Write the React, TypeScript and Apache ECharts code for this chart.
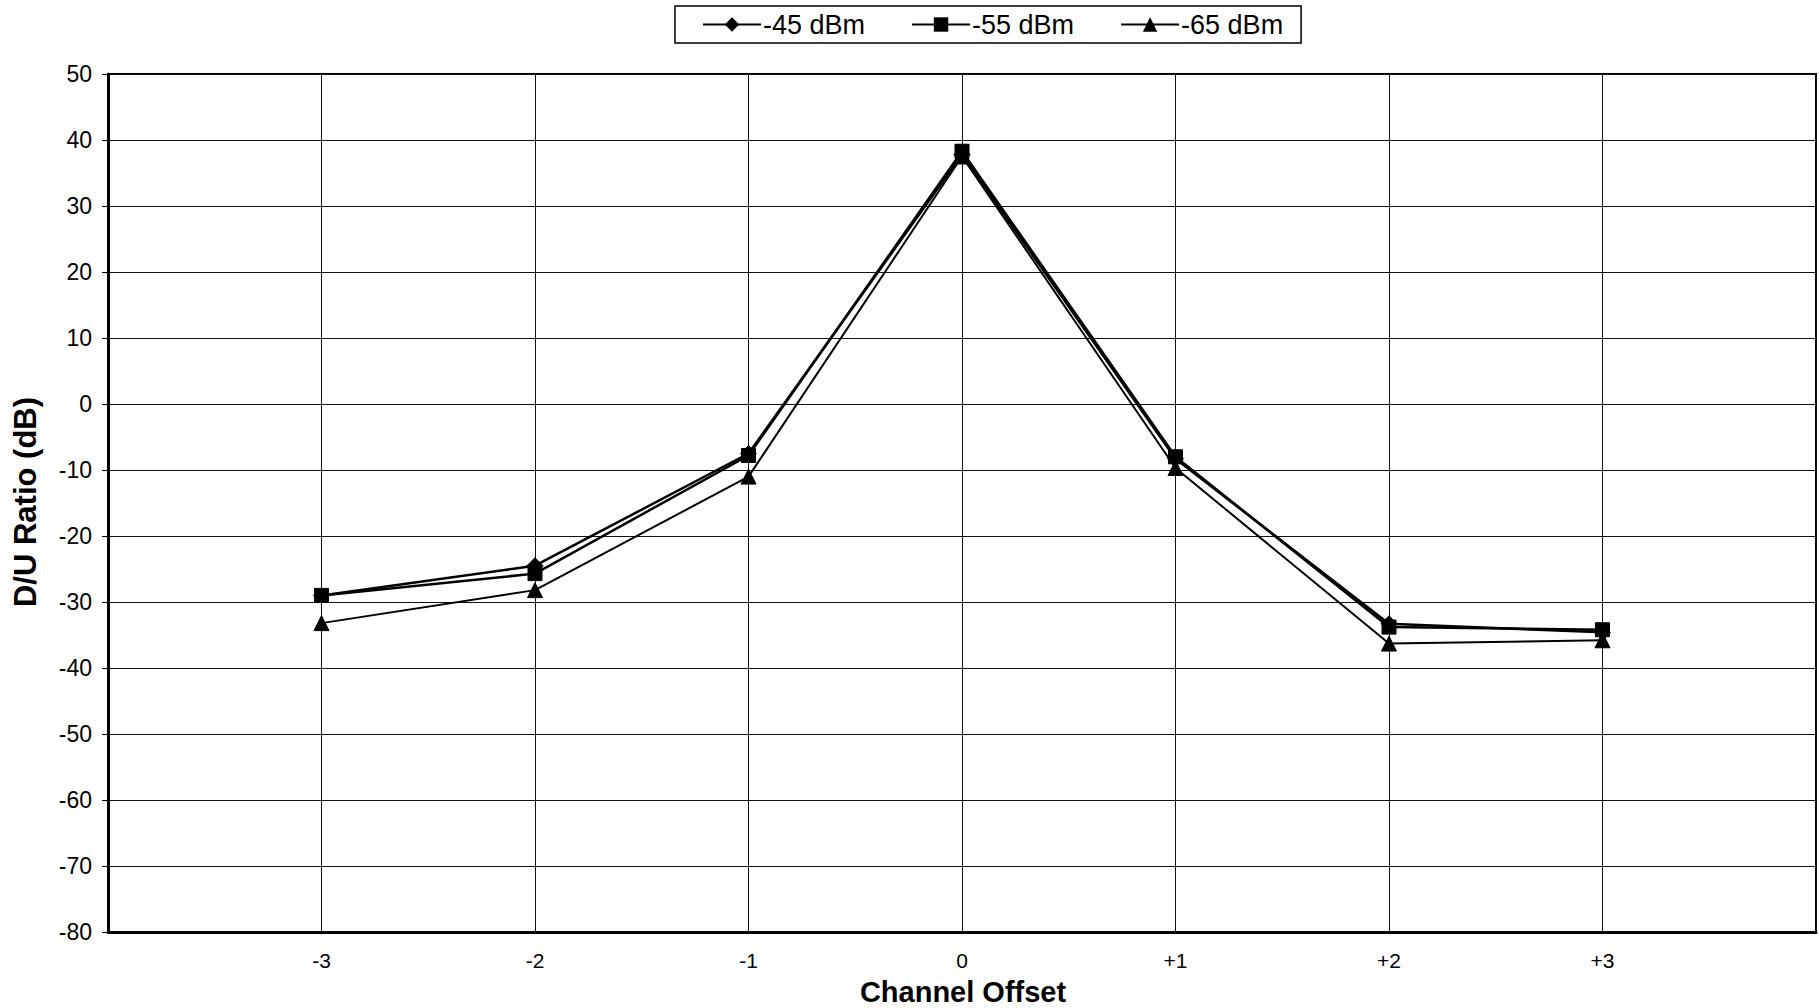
import React, { useEffect, useRef } from "react";
import * as echarts from "echarts";

const channelOffsets = [-3, -2, -1, 0, 1, 2, 3];
const xTickLabels = ["-3", "-2", "-1", "0", "+1", "+2", "+3"];
const seriesNames = ["-45 dBm", "-55 dBm", "-65 dBm"];
const dBm45 = [-29, -24.5, -7.5, 37.8, -8.3, -33.3, -34.6];
const dBm55 = [-29, -25.7, -7.8, 38.3, -8, -33.8, -34.2];
const dBm65 = [-33.2, -28.2, -11, 37.5, -9.7, -36.3, -35.8];
const yTicks = [50, 40, 30, 20, 10, 0, -10, -20, -30, -40, -50, -60, -70, -80];

const FONT = "'Liberation Sans', Arial, sans-serif";

export default function App() {
  const ref = useRef<HTMLDivElement>(null);
  useEffect(() => {
    document.body.style.margin = "0";
    if (!ref.current) return;
    const chart = echarts.init(ref.current, null, { renderer: "svg" });
    const pairs = (vals: number[]) => channelOffsets.map((x, i) => [x, vals[i]]);
    const mk = (name: string, vals: number[], symbol: string, size: number, width: number, z: number) => ({
      name,
      type: "line",
      data: pairs(vals),
      symbol,
      symbolSize: size,
      z,
      lineStyle: { color: "#000", width },
      itemStyle: { color: "#000", borderColor: "#000" },
    });
    chart.setOption({
      animation: false,
      backgroundColor: "#fff",
      textStyle: { fontFamily: FONT },
      legend: {
        data: seriesNames,
        left: 675,
        top: 6,
        padding: [5, 18, 5, 27],
        itemGap: 46,
        itemWidth: 58,
        itemHeight: 18,
        borderColor: "#000",
        borderWidth: 1.5,
        textStyle: { fontSize: 27, color: "#000", fontFamily: FONT, padding: [0, 0, 0, -3] },
      },
      grid: { left: 108, right: 2, top: 74, bottom: 76, show: true, borderColor: "#000", borderWidth: 2 },
      xAxis: {
        type: "value",
        min: -4,
        max: 4,
        interval: 1,
        axisLine: { show: true, onZero: false, lineStyle: { color: "#000", width: 3 } },
        axisTick: { show: false },
        axisLabel: {
          margin: 18,
          fontSize: 21,
          color: "#000",
          fontFamily: FONT,
          formatter: (v: number) => {
            const i = channelOffsets.indexOf(v);
            return i >= 0 ? xTickLabels[i] : "";
          },
        },
        splitLine: { show: true, lineStyle: { color: "#111", width: 1 } },
      },
      yAxis: {
        type: "value",
        min: yTicks[yTicks.length - 1],
        max: yTicks[0],
        interval: 10,
        axisLine: { show: true, onZero: false, lineStyle: { color: "#000", width: 3 } },
        axisTick: { show: true, length: 6, lineStyle: { color: "#000", width: 1 } },
        axisLabel: { margin: 16, fontSize: 23, color: "#000", fontFamily: FONT },
        splitLine: { show: true, lineStyle: { color: "#111", width: 1 } },
      },
      graphic: [
        {
          type: "text",
          x: 963,
          y: 992,
          style: { text: "Channel Offset", fill: "#000", font: "bold 29px " + FONT, textAlign: "center", textVerticalAlign: "middle" },
        },
        {
          type: "text",
          x: 25,
          y: 502,
          rotation: Math.PI / 2,
          style: { text: "D/U Ratio (dB)", fill: "#000", font: "bold 31px " + FONT, textAlign: "center", textVerticalAlign: "middle" },
        },
      ],
      series: [
        mk(seriesNames[0], dBm45, "diamond", 16, 2.5, 3),
        mk(seriesNames[1], dBm55, "rect", 14, 2.5, 4),
        mk(seriesNames[2], dBm65, "triangle", 15, 2, 2),
      ],
    });
    return () => chart.dispose();
  }, []);
  return <div ref={ref} style={{ width: 1819, height: 1008 }} />;
}
